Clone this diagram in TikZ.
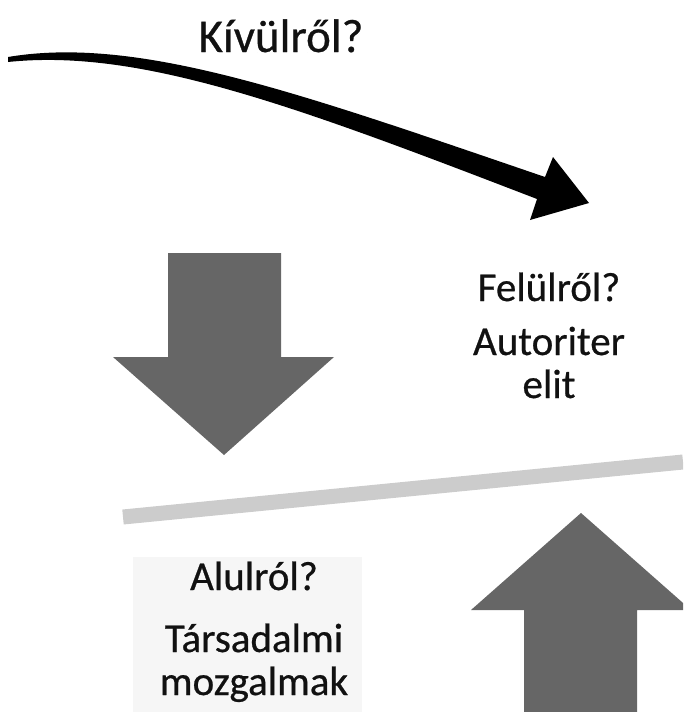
\documentclass[tikz,border=0pt]{standalone}
\usepackage{fontspec}
\setmainfont{Carlito}[FakeBold=0.6]
\usetikzlibrary{positioning}
\definecolor{cArr}{HTML}{666666}
\definecolor{cBar}{HTML}{CCCCCC}
\definecolor{cBox}{HTML}{F6F6F6}
\definecolor{cInk}{HTML}{111111}
\tikzset{
  lbl/.style   ={font=\fontsize{41}{48}\selectfont,text=cInk,inner sep=0pt,anchor=base},
  ttl/.style   ={lbl,font=\fontsize{47}{54}\selectfont},
  bigarr/.style={fill=cArr},
  curarr/.style={fill=black},
  bar/.style   ={draw=cBar,line width=15pt},
  boxbg/.style ={fill=cBox},
}

\begin{document}
\begin{tikzpicture}[x=1pt,y=-1pt]
\useasboundingbox (0,0) rectangle (683,712);
\clip (0,0) rectangle (683,712);

% curved arrow from outside
\fill[curarr] (8,57) .. controls (139,35) and (302,94) .. (545,177)
  -- (553,157) -- (589,203) -- (530,220) -- (537,199)
  .. controls (298,107) and (141,48) .. (8,62) -- cycle;
\node[ttl] (kivul) at (281,52) {Kívülről?};

% from above
\fill[bigarr] (168,253) -- (281,253) -- (281,357) -- (334,357)
  -- (224,455) -- (113,357) -- (168,357) -- cycle;
\node[lbl] (felul) at (549,301) {Felülről?};
\node[lbl] (autor) at (549,355) {Autoriter};
\node[lbl] (elit)  at (549,398) {elit};

% the level line
\coordinate (barL) at (123,517);
\coordinate (barR) at (683,462);
\draw[bar] (barL) -- (barR);

% from below
\fill[boxbg] (133,557) rectangle (362,712);
\node[lbl] (alul)  at (254,590) {Alulról?};
\node[lbl] (tars)  at (254,652) {Társadalmi};
\node[lbl] (mozg)  at (254,695) {mozgalmak};

\fill[bigarr] (524,712) -- (524,610) -- (471,610) -- (581,513)
  -- (691,610) -- (637,610) -- (637,712) -- cycle;
\end{tikzpicture}
\end{document}
